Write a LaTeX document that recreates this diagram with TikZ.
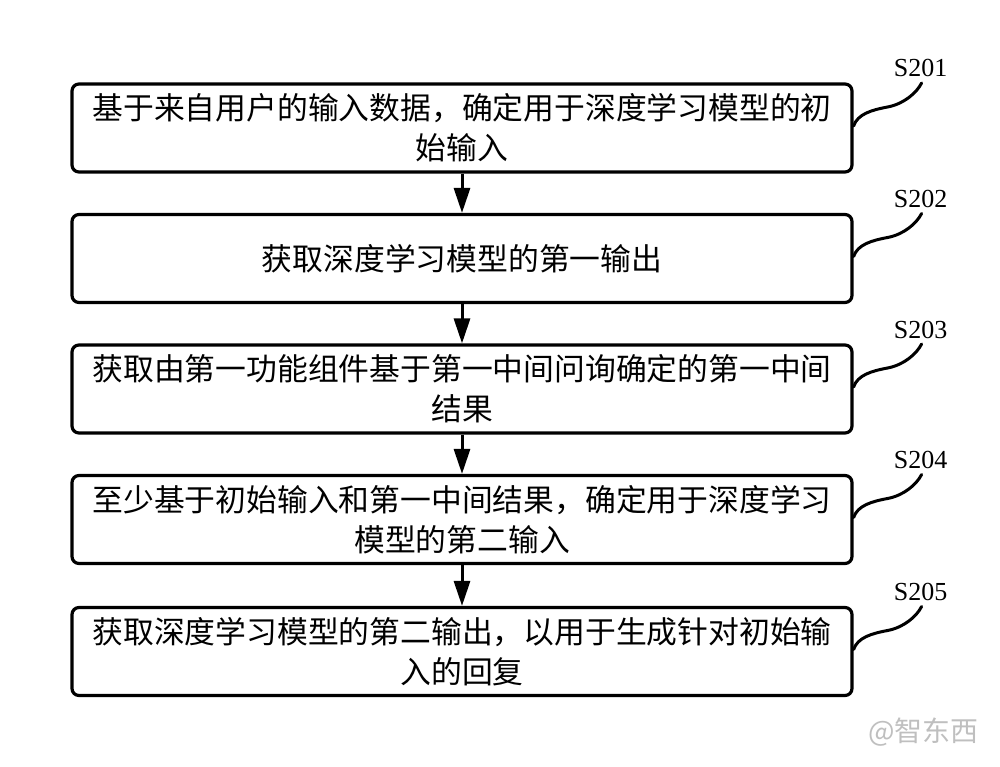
\documentclass[tikz,border=0pt]{standalone}
\usepackage{fontspec}
\setmainfont{Liberation Serif}
\newfontfamily\cjk{Noto Sans CJK SC}
\usetikzlibrary{arrows.meta,calc}
\tikzset{
  stepbox/.style={draw=black, line width=3.2pt, rounded corners=7pt, minimum width=780pt, minimum height=88pt, align=center, inner sep=0pt, font=\cjk\fontsize{30.8}{40}\selectfont},
  arr/.style={line width=3pt, -{Triangle[length=25pt,width=16pt]}},
  sq/.style={line width=3pt, line cap=round},
  lbl/.style={font=\fontsize{26}{30}\selectfont, inner sep=0pt},
  wm/.style={font=\cjk\fontsize{28}{30}\selectfont, text=black!25, inner sep=0pt}
}
\begin{document}
\begin{tikzpicture}[x=1pt,y=-1pt]
\useasboundingbox (0,0) rectangle (1000,767);
\node[stepbox] (b1) at (462,128) {基于来自用户的输入数据，确定用于深度学习模型的初\\始输入};
\node[stepbox] (b2) at (462,258.5) {获取深度学习模型的第一输出};
\node[stepbox] (b3) at (462,389) {获取由第一功能组件基于第一中间问询确定的第一中间\\结果};
\node[stepbox] (b4) at (462,519.5) {至少基于初始输入和第一中间结果，确定用于深度学习\\模型的第二输入};
\node[stepbox] (b5) at (462,651.5) {获取深度学习模型的第二输出，以用于生成针对初始输\\入的回复};
\draw[arr] (b1.south) -- (b2.north);
\draw[arr] (b2.south) -- (b3.north);
\draw[arr] (b3.south) -- (b4.north);
\draw[arr] (b4.south) -- (b5.north);
\foreach \i/\lab in {1/S201,2/S202,3/S203,4/S204,5/S205}{
  \coordinate (s\i) at ($(b\i.east)+(0,-2)$);
  \coordinate (e\i) at ($(b\i.east)+(68,-45)$);
  \node[lbl, anchor=base] (l\i) at ($(b\i.east)+(67,-51)$) {\lab};
  \draw[sq] (s\i) .. controls +(4,-12) and +(-16,3) .. ($(s\i)+(34,-19)$)
                  .. controls +(16,-3) and +(-5,10) .. (e\i);
}
\node[wm, anchor=west] (wm) at (868,732) {@智东西};
\end{tikzpicture}
\end{document}
